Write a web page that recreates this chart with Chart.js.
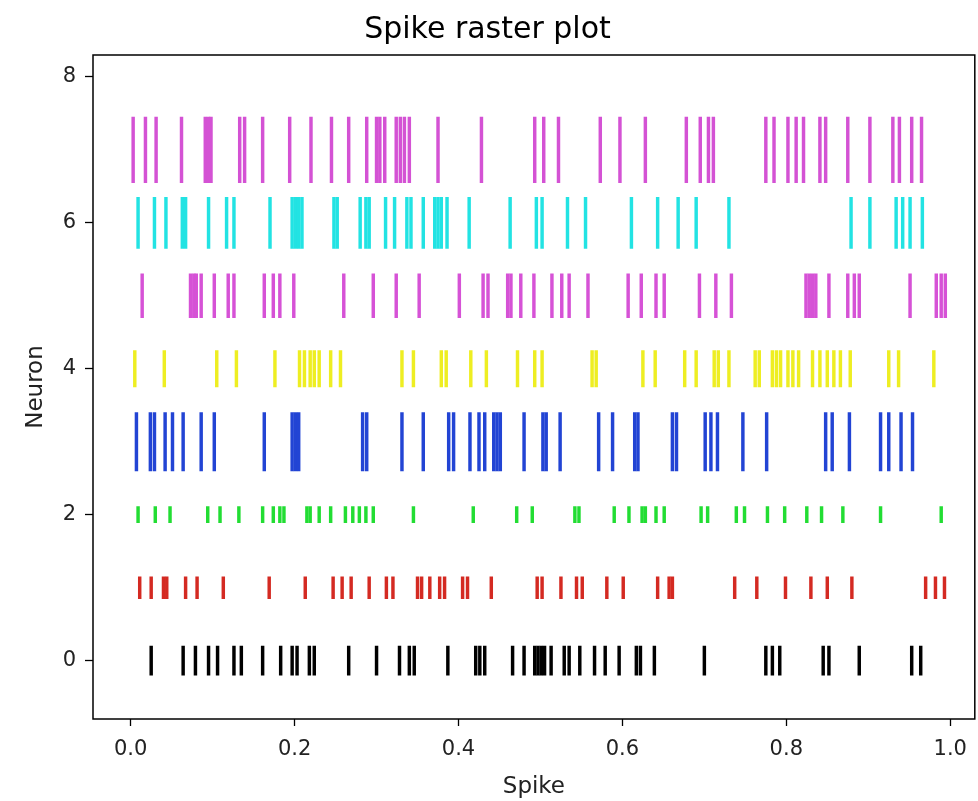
<!DOCTYPE html>
<html>
<head>
<meta charset="utf-8">
<title>Spike raster plot</title>
<script src="https://cdn.jsdelivr.net/npm/chart.js@4.4.1/dist/chart.umd.min.js"></script>
<style>
    html, body { margin: 0; padding: 0; background: #fff; }
</style>
</head>
<body>
<canvas id="raster" width="978" height="801"></canvas>
<script>
// spike times for each neuron (row)
var neuron0 = [0.025, 0.064, 0.079, 0.095, 0.106, 0.126, 0.135, 0.161, 0.183, 0.197, 0.203, 0.218, 0.224, 0.266, 0.300, 0.328, 0.340, 0.346, 0.387, 0.421, 0.426, 0.432, 0.466, 0.480, 0.493, 0.497, 0.501, 0.505, 0.513, 0.529, 0.535, 0.548, 0.566, 0.579, 0.596, 0.617, 0.622, 0.639, 0.700, 0.775, 0.783, 0.792, 0.845, 0.852, 0.889, 0.953, 0.964];
var neuron1 = [0.011, 0.025, 0.040, 0.044, 0.067, 0.081, 0.113, 0.169, 0.213, 0.247, 0.258, 0.269, 0.291, 0.312, 0.320, 0.350, 0.355, 0.365, 0.377, 0.383, 0.405, 0.411, 0.440, 0.496, 0.502, 0.525, 0.544, 0.551, 0.581, 0.601, 0.643, 0.657, 0.661, 0.737, 0.764, 0.799, 0.830, 0.850, 0.880, 0.970, 0.982, 0.993];
var neuron2 = [0.009, 0.030, 0.048, 0.094, 0.109, 0.132, 0.161, 0.174, 0.182, 0.187, 0.215, 0.219, 0.230, 0.244, 0.262, 0.271, 0.279, 0.287, 0.296, 0.345, 0.418, 0.471, 0.490, 0.542, 0.547, 0.590, 0.608, 0.624, 0.628, 0.641, 0.651, 0.696, 0.704, 0.739, 0.749, 0.777, 0.798, 0.825, 0.843, 0.869, 0.915, 0.989];
var neuron3 = [0.007, 0.024, 0.029, 0.042, 0.051, 0.064, 0.086, 0.102, 0.163, 0.197, 0.201, 0.205, 0.283, 0.288, 0.331, 0.357, 0.388, 0.394, 0.414, 0.425, 0.432, 0.443, 0.447, 0.451, 0.480, 0.503, 0.507, 0.524, 0.571, 0.588, 0.615, 0.619, 0.661, 0.666, 0.701, 0.708, 0.716, 0.747, 0.776, 0.848, 0.856, 0.877, 0.915, 0.925, 0.940, 0.954];
var neuron4 = [0.005, 0.041, 0.105, 0.129, 0.176, 0.206, 0.212, 0.219, 0.224, 0.230, 0.244, 0.256, 0.331, 0.345, 0.379, 0.385, 0.415, 0.434, 0.472, 0.493, 0.502, 0.563, 0.568, 0.625, 0.640, 0.676, 0.690, 0.712, 0.717, 0.730, 0.762, 0.767, 0.783, 0.788, 0.793, 0.802, 0.808, 0.815, 0.832, 0.841, 0.850, 0.858, 0.866, 0.878, 0.925, 0.937, 0.980];
var neuron5 = [0.014, 0.073, 0.077, 0.080, 0.086, 0.102, 0.119, 0.126, 0.163, 0.174, 0.182, 0.199, 0.260, 0.296, 0.324, 0.352, 0.401, 0.430, 0.436, 0.460, 0.464, 0.476, 0.492, 0.514, 0.526, 0.535, 0.558, 0.607, 0.623, 0.641, 0.651, 0.694, 0.714, 0.733, 0.824, 0.828, 0.832, 0.836, 0.852, 0.875, 0.883, 0.889, 0.951, 0.983, 0.989, 0.994];
var neuron6 = [0.009, 0.029, 0.043, 0.063, 0.067, 0.095, 0.117, 0.126, 0.170, 0.197, 0.201, 0.205, 0.209, 0.248, 0.252, 0.280, 0.287, 0.291, 0.311, 0.322, 0.337, 0.342, 0.357, 0.371, 0.375, 0.379, 0.386, 0.413, 0.463, 0.495, 0.502, 0.533, 0.555, 0.611, 0.643, 0.668, 0.690, 0.730, 0.879, 0.902, 0.934, 0.942, 0.951, 0.966];
var neuron7 = [0.003, 0.018, 0.031, 0.062, 0.091, 0.095, 0.098, 0.133, 0.139, 0.161, 0.194, 0.220, 0.245, 0.266, 0.288, 0.300, 0.304, 0.310, 0.324, 0.329, 0.334, 0.340, 0.375, 0.428, 0.493, 0.504, 0.522, 0.573, 0.597, 0.628, 0.678, 0.695, 0.705, 0.711, 0.775, 0.785, 0.802, 0.812, 0.821, 0.841, 0.848, 0.875, 0.902, 0.930, 0.938, 0.953, 0.965];

var neurons = [neuron0, neuron1, neuron2, neuron3, neuron4, neuron5, neuron6, neuron7];
var lineOffsets = [0, 1, 2, 3, 4, 5, 6, 7];
var xTicks = [0.0, 0.2, 0.4, 0.6, 0.8, 1.0];
var yTicks = [0, 2, 4, 6, 8];

// look of each row
var lineColors = ["#000000", "#d42a22", "#22dd33", "#2244d4", "#eeee22", "#d652d6", "#22e3e3", "#d452d4"];
var lineLengths = [0.4, 0.3, 0.22, 0.8, 0.5, 0.6, 0.7, 0.9];

var font = "'DejaVu Sans', sans-serif";

// box round the plot area, like matplotlib spines
var frame = {
    id: "frame",
    afterDatasetsDraw: function (chart) {
        var a = chart.chartArea;
        var c = chart.ctx;
        c.save();
        c.strokeStyle = "#000";
        c.lineWidth = 1.5;
        c.strokeRect(a.left, a.top, a.right - a.left, a.bottom - a.top);
        c.restore();
    },
};

var datasets = neurons.map(function (spikes, i) {
    var off = lineOffsets[i];
    var half = lineLengths[i] / 2;
    return {
        label: "neuron " + off,
        data: spikes.map(function (t) {
            return { x: t, y: [off - half, off + half] };
        }),
        backgroundColor: lineColors[i],
        borderWidth: 0,
        barThickness: 2.8,
        grouped: false,
    };
});

var ctx = document.getElementById("raster").getContext("2d");
var chart = new Chart(ctx, {
    type: "bar",
    data: { datasets: datasets },
    plugins: [frame],
    options: {
        responsive: false,
        animation: false,
        layout: { padding: { right: 3 } },
        plugins: {
            legend: { display: false },
            tooltip: { enabled: false },
            title: {
                display: true,
                text: "Spike raster plot",
                color: "#000",
                font: { family: font, size: 30, weight: "normal" },
                padding: { top: 12, bottom: 7 },
            },
        },
        scales: {
            x: {
                type: "linear",
                offset: false,
                min: -0.046,
                max: 1.03,
                afterFit: function (s) { s.height = 82; },
                afterBuildTicks: function (s) {
                    s.ticks = xTicks.map(function (v) { return { value: v }; });
                },
                border: { display: false },
                grid: {
                    offset: false,
                    drawOnChartArea: false,
                    drawTicks: true,
                    tickLength: 7,
                    tickColor: "#000",
                    tickWidth: 1.3,
                },
                ticks: {
                    color: "#222",
                    padding: 11,
                    maxRotation: 0,
                    font: { family: font, size: 21 },
                    callback: function (v) { return v.toFixed(1); },
                },
                title: {
                    display: true,
                    text: "Spike",
                    color: "#222",
                    font: { family: font, size: 23 },
                    padding: { top: 0, bottom: 0 },
                },
            },
            y: {
                type: "linear",
                min: -0.8,
                max: 8.3,
                afterFit: function (s) { s.width = 93; },
                afterBuildTicks: function (s) {
                    s.ticks = yTicks.map(function (v) { return { value: v }; });
                },
                border: { display: false },
                grid: {
                    drawOnChartArea: false,
                    drawTicks: true,
                    tickLength: 8,
                    tickColor: "#000",
                    tickWidth: 1.3,
                },
                ticks: {
                    color: "#222",
                    padding: 9,
                    font: { family: font, size: 21 },
                },
                title: {
                    display: true,
                    text: "Neuron",
                    color: "#222",
                    font: { family: font, size: 23 },
                    padding: { top: 22, bottom: 0 },
                },
            },
        },
    },
});
</script>
</body>
</html>
